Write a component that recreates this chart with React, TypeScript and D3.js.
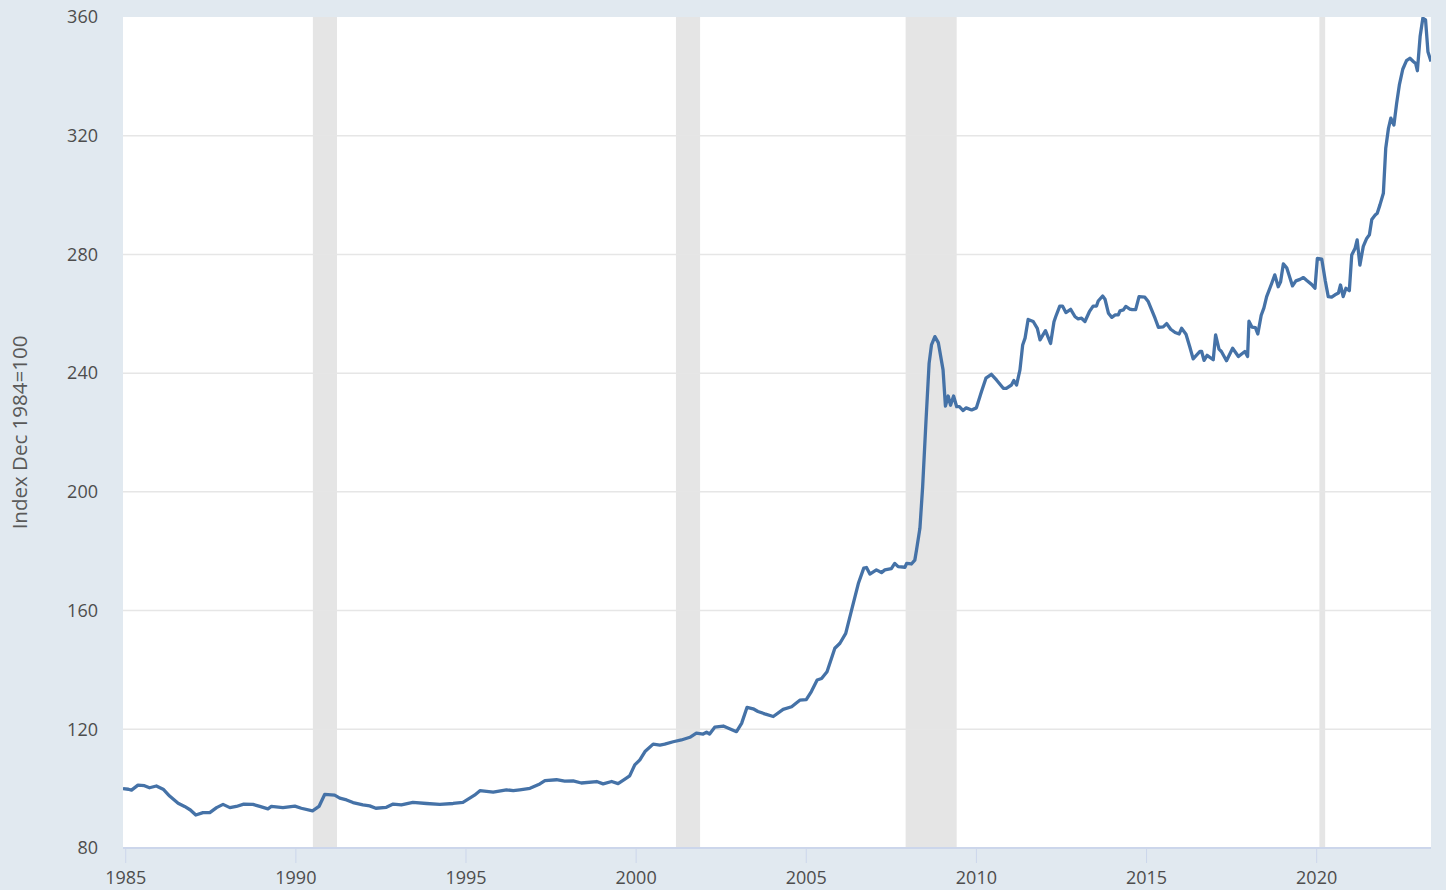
import React, { useEffect, useRef } from 'react'
import * as d3 from 'd3'

// [decimal year, index value]
const series1985to1995: [number, number][] = [
  [1984.92, 100.0], [1985.08, 99.8], [1985.17, 99.5], [1985.36, 101.2], [1985.55, 101.0], [1985.7, 100.3],
  [1985.9, 100.9], [1986.1, 99.8], [1986.29, 97.5], [1986.54, 95.1], [1986.73, 94.0], [1986.9, 92.8],
  [1987.06, 91.1], [1987.27, 91.9], [1987.47, 91.9], [1987.67, 93.6], [1987.86, 94.7], [1988.06, 93.6],
  [1988.25, 94.0], [1988.47, 94.8], [1988.74, 94.7], [1988.94, 94.0], [1989.18, 93.2], [1989.28, 94.0],
  [1989.62, 93.6], [1989.97, 94.1], [1990.16, 93.4], [1990.49, 92.5], [1990.68, 94.0], [1990.85, 98.1],
  [1991.14, 97.8], [1991.29, 96.8], [1991.49, 96.2], [1991.68, 95.3], [1991.97, 94.5], [1992.17, 94.2],
  [1992.35, 93.4], [1992.66, 93.7], [1992.86, 94.8], [1993.1, 94.5], [1993.44, 95.4], [1993.84, 95.0],
  [1994.23, 94.7], [1994.62, 95.0], [1994.91, 95.4],
]

const series1995to2003: [number, number][] = [
  [1995.11, 96.8], [1995.25, 97.8], [1995.41, 99.3], [1995.8, 98.8], [1996.19, 99.6], [1996.39, 99.3],
  [1996.58, 99.6], [1996.88, 100.1], [1997.17, 101.6], [1997.32, 102.7], [1997.66, 103.0], [1997.9, 102.5],
  [1998.15, 102.6], [1998.39, 101.9], [1998.84, 102.4], [1999.03, 101.6], [1999.28, 102.4], [1999.47, 101.7],
  [1999.67, 103.2], [1999.81, 104.3], [1999.96, 108.0], [2000.11, 109.7], [2000.26, 112.5], [2000.5, 115.0],
  [2000.7, 114.7], [2000.84, 115.0], [2001.09, 115.8], [2001.33, 116.4], [2001.58, 117.3], [2001.77, 118.7],
  [2001.97, 118.4], [2002.07, 119.0], [2002.16, 118.4], [2002.31, 120.7], [2002.56, 121.1], [2002.95, 119.2],
  [2003.1, 122.0], [2003.26, 127.4],
]

const series2003to2009: [number, number][] = [
  [2003.44, 126.9], [2003.58, 126.0], [2003.78, 125.2], [2004.03, 124.3], [2004.32, 126.7], [2004.57, 127.6],
  [2004.81, 129.8], [2005.0, 130.0], [2005.15, 132.7], [2005.32, 136.6], [2005.45, 137.1], [2005.61, 139.4],
  [2005.84, 147.3], [2005.99, 149.0], [2006.16, 152.3], [2006.33, 160.1], [2006.53, 169.1], [2006.69, 174.3],
  [2006.77, 174.5], [2006.87, 172.3], [2007.06, 173.7], [2007.21, 172.8], [2007.31, 173.7], [2007.5, 174.1],
  [2007.6, 175.9], [2007.7, 174.8], [2007.9, 174.6], [2007.95, 175.9], [2008.09, 175.7], [2008.19, 177.0],
  [2008.24, 180.4], [2008.34, 187.7], [2008.42, 201.7], [2008.52, 224.2], [2008.61, 243.3], [2008.68, 249.5],
  [2008.78, 252.3], [2008.88, 250.3], [2009.02, 241.1], [2009.09, 228.9], [2009.17, 232.3], [2009.24, 229.2],
  [2009.33, 232.3], [2009.42, 228.7],
]

const series2009to2017: [number, number][] = [
  [2009.5, 228.7], [2009.61, 227.4], [2009.7, 228.3], [2009.86, 227.6], [2010.0, 228.3], [2010.15, 233.8],
  [2010.28, 238.3], [2010.44, 239.6], [2010.59, 237.7], [2010.79, 234.9], [2010.88, 234.9], [2011.03, 236.0],
  [2011.1, 237.5], [2011.18, 236.0], [2011.28, 241.1], [2011.36, 249.5], [2011.43, 251.8], [2011.52, 258.1],
  [2011.67, 257.4], [2011.79, 255.1], [2011.87, 251.2], [2012.03, 254.3], [2012.18, 250.0], [2012.28, 257.3],
  [2012.33, 259.0], [2012.45, 262.6], [2012.53, 262.6], [2012.63, 260.4], [2012.77, 261.5], [2012.9, 259.0],
  [2012.99, 258.3], [2013.09, 258.5], [2013.19, 257.4], [2013.32, 260.7], [2013.43, 262.6], [2013.53, 262.6],
  [2013.58, 264.3], [2013.71, 266.0], [2013.78, 264.9], [2013.88, 260.2], [2013.98, 258.8], [2014.08, 259.6],
  [2014.17, 259.6], [2014.22, 261.0], [2014.32, 261.3], [2014.39, 262.5], [2014.51, 261.6], [2014.58, 261.4],
  [2014.68, 261.4], [2014.78, 265.8], [2014.95, 265.6], [2015.05, 264.1], [2015.15, 261.3], [2015.25, 258.5],
  [2015.35, 255.4], [2015.49, 255.6], [2015.59, 256.7], [2015.71, 254.8], [2015.84, 253.7], [2015.96, 253.2],
  [2016.03, 255.1], [2016.16, 253.1], [2016.27, 248.9], [2016.37, 244.8], [2016.57, 247.3], [2016.62, 247.3],
  [2016.69, 244.3], [2016.78, 246.0], [2016.96, 244.5], [2017.03, 252.9], [2017.13, 248.1], [2017.2, 247.3],
  [2017.35, 244.2], [2017.53, 248.4], [2017.7, 245.6], [2017.89, 247.3], [2017.97, 245.6],
]

const series2018to2023: [number, number][] = [
  [2018.01, 257.5], [2018.1, 255.5], [2018.2, 255.3], [2018.27, 253.2], [2018.37, 259.5], [2018.45, 262.0],
  [2018.53, 265.8], [2018.68, 270.3], [2018.77, 273.1], [2018.87, 269.1], [2018.94, 270.8], [2019.02, 276.8],
  [2019.12, 275.5], [2019.29, 269.4], [2019.39, 271.1], [2019.51, 271.6], [2019.61, 272.2], [2019.71, 271.2],
  [2019.85, 269.9], [2019.95, 268.6], [2020.02, 278.7], [2020.15, 278.4], [2020.25, 271.3], [2020.34, 265.8],
  [2020.44, 265.6], [2020.54, 266.4], [2020.64, 267.0], [2020.7, 269.7], [2020.78, 265.8], [2020.86, 268.6],
  [2020.96, 267.8], [2021.03, 279.8], [2021.13, 282.1], [2021.19, 284.9], [2021.27, 276.4], [2021.37, 282.7],
  [2021.47, 285.4], [2021.55, 286.6], [2021.62, 291.8], [2021.72, 293.3], [2021.78, 293.9], [2021.86, 296.7],
  [2021.96, 300.6], [2022.03, 315.8], [2022.11, 322.5], [2022.18, 325.9], [2022.27, 323.6], [2022.35, 330.9],
  [2022.43, 337.1], [2022.53, 342.4], [2022.64, 345.3], [2022.74, 346.1], [2022.84, 345.0], [2022.91, 344.3],
  [2022.96, 341.9], [2023.04, 353.4], [2023.12, 359.6], [2023.2, 359.0], [2023.27, 348.3], [2023.36, 345.0],
]

const recessionStarts = [1990.5, 2001.17, 2007.92, 2020.08]
const recessionEnds = [1991.21, 2001.88, 2009.42, 2020.25]

const yTicks = [80, 120, 160, 200, 240, 280, 320, 360]
const xTicks = [1985, 1990, 1995, 2000, 2005, 2010, 2015, 2020]
const yLabel = 'Index Dec 1984=100'

const width = 1446
const height = 890
const left = 123
const right = 1431
const top = 17
const bottom = 848

export default function App() {
  const node = useRef<SVGSVGElement>(null)

  useEffect(() => {
    const data = [...series1985to1995, ...series1995to2003, ...series2003to2009, ...series2009to2017, ...series2018to2023]

    const x = d3.scaleLinear().domain([1984.92, 2023.36]).range([left, right])
    const y = d3.scaleLinear().domain([80, 360]).range([bottom, top])

    const svg = d3.select(node.current)
    svg.selectAll('*').remove()

    svg.append('rect').attr('width', width).attr('height', height).attr('fill', '#e1e9f0')
    svg.append('rect')
      .attr('x', left).attr('y', top)
      .attr('width', right - left).attr('height', bottom - top)
      .attr('fill', '#ffffff')

    svg.append('defs').append('clipPath').attr('id', 'plot-clip')
      .append('rect')
      .attr('x', left).attr('y', top)
      .attr('width', right - left).attr('height', bottom - top)

    // recession shading
    svg.append('g')
      .selectAll('rect')
      .data(recessionStarts.map((s, i) => [s, recessionEnds[i]]))
      .join('rect')
      .attr('x', d => x(d[0]))
      .attr('y', top)
      .attr('width', d => x(d[1]) - x(d[0]))
      .attr('height', bottom - top)
      .attr('fill', '#e5e5e5')

    // horizontal grid
    svg.append('g')
      .selectAll('line')
      .data(yTicks.filter(t => t > 80 && t < 360))
      .join('line')
      .attr('x1', left).attr('x2', right)
      .attr('y1', d => y(d)).attr('y2', d => y(d))
      .attr('stroke', '#e6e6e6')
      .attr('stroke-width', 1.5)

    const line = d3.line<[number, number]>()
      .x(d => x(d[0]))
      .y(d => y(d[1]))

    svg.append('path')
      .datum(data)
      .attr('clip-path', 'url(#plot-clip)')
      .attr('d', line)
      .attr('fill', 'none')
      .attr('stroke', '#4572a7')
      .attr('stroke-width', 3.3)
      .attr('stroke-linejoin', 'round')

    // x axis
    const xAxis = svg.append('g')
    xAxis.append('line')
      .attr('x1', left).attr('x2', right)
      .attr('y1', bottom).attr('y2', bottom)
      .attr('stroke', '#ccd6eb').attr('stroke-width', 2)
    xAxis.selectAll('line.tick')
      .data(xTicks)
      .join('line')
      .attr('class', 'tick')
      .attr('x1', d => x(d)).attr('x2', d => x(d))
      .attr('y1', bottom).attr('y2', bottom + 15)
      .attr('stroke', '#ccd6eb').attr('stroke-width', 1)
    xAxis.selectAll('text')
      .data(xTicks)
      .join('text')
      .attr('x', d => x(d))
      .attr('y', 884)
      .attr('text-anchor', 'middle')
      .attr('font-family', '"Open Sans", sans-serif')
      .attr('font-size', 18)
      .attr('fill', '#4d4d4d')
      .text(d => String(d))

    // y axis labels
    svg.append('g')
      .selectAll('text')
      .data(yTicks)
      .join('text')
      .attr('x', 98)
      .attr('y', d => y(d))
      .attr('dy', '0.35em')
      .attr('text-anchor', 'end')
      .attr('font-family', '"Open Sans", sans-serif')
      .attr('font-size', 18)
      .attr('fill', '#4d4d4d')
      .text(d => String(d))

    svg.append('text')
      .attr('transform', `translate(27, ${(top + bottom) / 2}) rotate(-90)`)
      .attr('text-anchor', 'middle')
      .attr('font-family', '"Open Sans", sans-serif')
      .attr('font-size', 20.5)
      .attr('fill', '#595959')
      .text(yLabel)
  }, [])

  return (
    <svg
      ref={node}
      width={width}
      height={height}
      style={{ position: 'absolute', top: 0, left: 0, display: 'block' }}
    />
  )
}
